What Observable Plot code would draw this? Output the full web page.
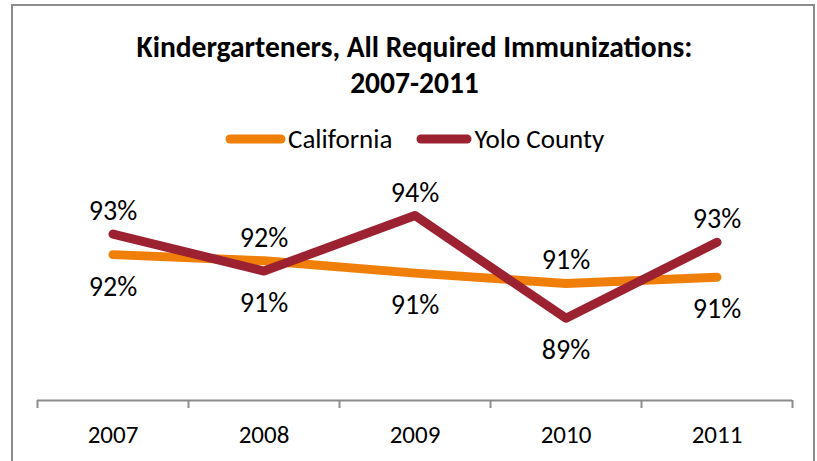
<!DOCTYPE html>
<html><head><meta charset="utf-8">
<script src="https://cdn.jsdelivr.net/npm/d3@7"></script>
<script src="https://cdn.jsdelivr.net/npm/@observablehq/plot@0.6"></script>
<style>
body{margin:0;background:#fff;}
#wrap{position:relative;width:817px;height:461px;overflow:hidden;font-family:Carlito, Lato, sans-serif;color:#000;}
#frame{position:absolute;left:11px;top:4px;width:800px;height:520px;border:2px solid #8c8c8c;}
#title{position:absolute;left:0;width:829px;top:29px;text-align:center;font-weight:bold;font-size:29.5px;line-height:36px;}
#legend{position:absolute;top:124px;left:225px;display:flex;align-items:center;font-size:27px;line-height:30px;white-space:nowrap;}
#legend .item{display:flex;align-items:center;}
#legend svg{display:block;margin-right:2px;}
#chart{position:absolute;top:170px;left:0;}
</style></head>
<body><div id="wrap"><div id="frame"></div>
<div id="title">Kindergarteners, All Required Immunizations:<br>2007-2011</div>
<div id="legend"></div>
<div id="chart"></div></div>
<script>
const years = [2007, 2008, 2009, 2010, 2011];
const california = [92.1, 91.8, 91.2, 90.7, 91.0];
const yolo = [93.1, 91.3, 94.0, 89.0, 92.7];
const seriesNames = ["California", "Yolo County"];
const seriesColors = ["#f07f09", "#9c2232"];

const seriesValues = [california, yolo];
const rows = [];
seriesNames.forEach((name, si) => {
  years.forEach((yr, i) => {
    const v = seriesValues[si][i];
    const other = seriesValues[1 - si][i];
    rows.push({series: name, year: yr, value: v, above: v >= other});
  });
});
const boundaries = [...years.map(y => y - 0.5), years[years.length - 1] + 0.5];

// legend
const legend = d3.select("#legend");
seriesNames.forEach((name, i) => {
  const w = i === 0 ? 61 : 56;
  const it = legend.append("div").attr("class", "item").style("margin-right", i === 0 ? "24px" : "0");
  const s = it.append("svg").attr("width", w).attr("height", 12);
  s.append("line").attr("x1", 5).attr("x2", w - 5).attr("y1", 6).attr("y2", 6)
    .attr("stroke", seriesColors[i]).attr("stroke-width", 9).attr("stroke-linecap", "round");
  it.append("span").text(name);
});

const chart = Plot.plot({
  width: 817,
  height: 291,
  marginLeft: 37,
  marginRight: 25,
  marginTop: 4,
  marginBottom: 61,
  style: {fontFamily: "Carlito, Lato, sans-serif", background: "transparent", color: "#000"},
  x: {type: "linear", domain: [boundaries[0], boundaries[boundaries.length - 1]], label: null},
  y: {domain: [85, 96], axis: null},
  color: {domain: seriesNames, range: seriesColors},
  marks: [
    Plot.ruleY([85], {stroke: "#8c8c8c", strokeWidth: 2}),
    Plot.axisX(boundaries, {tickSize: 8, tickFormat: () => "", stroke: "#8c8c8c", strokeWidth: 2, label: null}),
    Plot.axisX(years, {tickSize: 0, tickPadding: 25, tickFormat: d => String(d), fontSize: 25, fill: "#000", label: null}),
    Plot.line(rows, {x: "year", y: "value", z: "series", stroke: "series", strokeWidth: 9, strokeLinecap: "round", strokeLinejoin: "round"}),
    Plot.text(rows.filter(d => d.above), {x: "year", y: "value", text: d => Math.round(d.value) + "%", dy: -23, fontSize: 28, fill: "#000"}),
    Plot.text(rows.filter(d => !d.above), {x: "year", y: "value", text: d => Math.round(d.value) + "%", dy: 32, fontSize: 28, fill: "#000"})
  ]
});
document.getElementById("chart").appendChild(chart);
</script>
</body></html>
